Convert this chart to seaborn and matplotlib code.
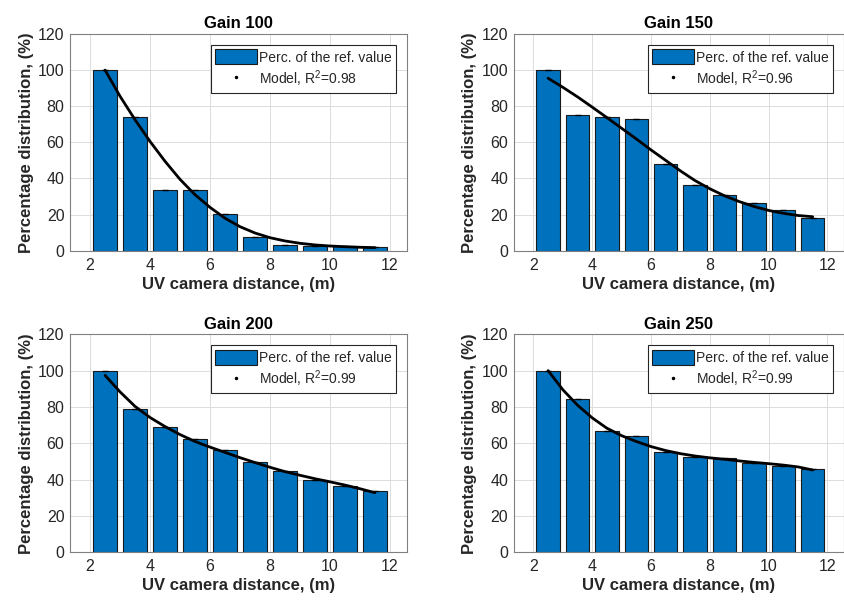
import matplotlib
matplotlib.use("Agg")
import matplotlib.pyplot as plt
import seaborn as sns
import numpy as np
import pandas as pd
from matplotlib.patches import Patch
from matplotlib.lines import Line2D

# ---------------- data ----------------
distance = [2.5, 3.5, 4.5, 5.5, 6.5, 7.5, 8.5, 9.5, 10.5, 11.5]

gain_titles = ["Gain 100", "Gain 150", "Gain 200", "Gain 250"]
r2_values = ["0.98", "0.96", "0.99", "0.99"]

perc_gain100 = [100, 73.8, 33.8, 33.4, 20.2, 7.5, 3.4, 2.6, 2.5, 2.1]
perc_gain150 = [100, 75.0, 74.1, 73.0, 47.8, 36.2, 30.9, 26.2, 22.4, 18.3]
perc_gain200 = [100, 78.9, 69.1, 62.1, 56.4, 49.6, 44.6, 39.6, 36.3, 33.8]
perc_gain250 = [100, 84.3, 67.0, 63.8, 55.3, 52.6, 51.9, 49.4, 47.3, 45.7]

# model curve (half-metre steps)
model_x = [2.5, 3.0, 3.5, 4.0, 4.5, 5.0, 5.5, 6.0, 6.5, 7.0, 7.5, 8.0, 8.5,
           9.0, 9.5, 10.0, 10.5, 11.0, 11.5]
model_gain100 = [100, 85.5, 72.5, 60.5, 49.5, 39.5, 31, 24, 18, 13.3, 9.8,
                 7.2, 5.4, 4.1, 3.2, 2.6, 2.2, 1.9, 1.7]
model_gain150 = [95.5, 90.5, 85.2, 79.5, 73.7, 67.8, 61.9, 55.8, 50.0, 44.2,
                 38.8, 34.3, 30.4, 27.2, 24.5, 22.3, 20.7, 19.5, 18.8]
model_gain200 = [97.4, 88.3, 80.3, 74.2, 69.2, 64.8, 61.0, 57.9, 55.0, 52.1,
                 49.4, 46.8, 44.4, 42.4, 40.5, 38.8, 37.0, 35.0, 32.8]
model_gain250 = [100, 89.5, 81.0, 74.0, 68.3, 64.2, 61.0, 58.2, 56.0, 54.3,
                 53.0, 52.0, 51.2, 50.3, 49.5, 48.8, 48.0, 47.0, 45.3]

perc_all = [perc_gain100, perc_gain150, perc_gain200, perc_gain250]
model_all = [model_gain100, model_gain150, model_gain200, model_gain250]

x_ticks = [2, 4, 6, 8, 10, 12]
y_ticks = [0, 20, 40, 60, 80, 100, 120]

# ---------------- style ----------------
sns.set_theme(style="whitegrid")
plt.rcParams["font.family"] = ["Liberation Sans", "DejaVu Sans"]
plt.rcParams["mathtext.default"] = "regular"

bar_color = "#0072BD"
text_color = "#262626"
tick_color = "#4d4d4d"

fig = plt.figure(figsize=(8.44, 6.03), dpi=100)
W, H = 844.0, 603.0
positions = [
    (70 / W, 1 - 250.7 / H, 337 / W, 216.7 / H),
    (513.7 / W, 1 - 250.7 / H, 330.5 / W, 216.7 / H),
    (70 / W, 1 - 552.3 / H, 337 / W, 218 / H),
    (513.7 / W, 1 - 552.3 / H, 330.5 / W, 218 / H),
]

for i in range(4):
    ax = fig.add_axes(positions[i])
    df = pd.DataFrame({"distance": distance, "perc": perc_all[i]})
    sns.barplot(data=df, x="distance", y="perc", native_scale=True,
                width=0.8, color=bar_color, saturation=1,
                edgecolor="#1a1a1a", linewidth=0.8, ax=ax, zorder=2)
    # small caps at bar tops
    ax.plot(distance, perc_all[i], linestyle="none", marker="_",
            markersize=4, markeredgewidth=1, color="black", zorder=3)
    dm = pd.DataFrame({"x": model_x, "y": model_all[i]})
    sns.lineplot(data=dm, x="x", y="y", color="black", linewidth=2.0,
                 ax=ax, zorder=4)

    ax.set_xlim(1.33, 12.57)
    ax.set_ylim(0, 120)
    ax.set_xticks(x_ticks)
    ax.set_yticks(y_ticks)
    ax.tick_params(axis="both", labelsize=11.5, colors=tick_color,
                   labelcolor=text_color, direction="in", length=3,
                   width=0.6, pad=4)
    ax.tick_params(axis="x", pad=5)
    ax.grid(True, color="#dcdcdc", linewidth=0.7)
    ax.set_axisbelow(True)
    for sp in ax.spines.values():
        sp.set_color("#808080")
        sp.set_linewidth(0.8)
        sp.set_visible(True)
    ax.set_facecolor("white")

    ax.set_title(gain_titles[i], fontsize=12, fontweight="bold",
                 color="black", pad=4)
    ax.set_xlabel("UV camera distance, (m)", fontsize=12, fontweight="bold",
                  color=text_color, labelpad=3)
    ax.set_ylabel("Percentage distribution, (%)", fontsize=12,
                  fontweight="bold", color=text_color, labelpad=3)

    handles = [
        Patch(facecolor=bar_color, edgecolor="#1a1a1a", linewidth=0.8),
        Line2D([], [], linestyle="none", marker=".", markersize=3,
               color="black"),
    ]
    labels = ["Perc. of the ref. value", "Model, R$^2$=" + r2_values[i]]
    leg = ax.legend(handles, labels, loc="upper right", fontsize=10,
                    frameon=True, fancybox=False, framealpha=1,
                    edgecolor="#262626", handlelength=3.0, handleheight=1.3,
                    handletextpad=0.15, borderpad=0.3, labelspacing=0.25,
                    borderaxespad=0.8)
    leg.get_frame().set_linewidth(0.8)
    for t in leg.get_texts():
        t.set_color(text_color)

fig.savefig("out.png", dpi=100, facecolor="white")
